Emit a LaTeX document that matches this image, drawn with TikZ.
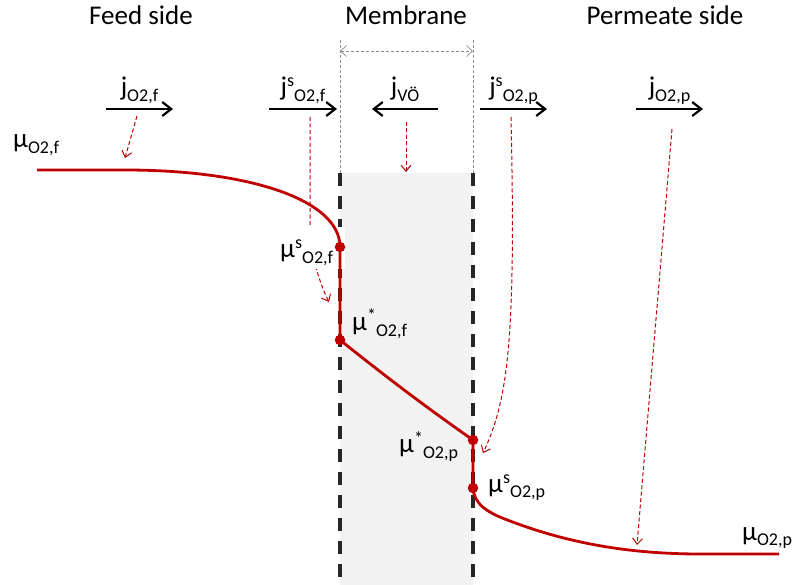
\documentclass[tikz,border=0pt]{standalone}
\usepackage{fontspec}
\setmainfont{Carlito}
\usetikzlibrary{arrows.meta,positioning}
\definecolor{curvered}{RGB}{192,0,0}
\definecolor{membgray}{RGB}{242,242,242}
\definecolor{walldark}{RGB}{38,38,38}
\newcommand{\lsub}[1]{\raisebox{-5.5pt}{\fontsize{18}{18}\selectfont #1}}
\newcommand{\lsup}[1]{\raisebox{9pt}{\fontsize{18}{18}\selectfont #1}}

\begin{document}
\begin{tikzpicture}[x=1pt, y=-1pt, >=Stealth,
    every node/.style={font=\fontsize{27}{31}\selectfont, inner sep=0pt},
    flux/.style={line width=2.2pt, -{Straight Barb[length=9pt,width=14pt]}},
    fluxlabel/.style={above=3pt, text depth=9pt},
    hint/.style={curvered, line width=1pt, dash pattern=on 4pt off 2.5pt, -{Straight Barb[length=6pt,width=10pt]}},
    wall/.style={walldark, line width=3.5pt, dash pattern=on 13pt off 10pt},
    guide/.style={black!45, line width=0.7pt, dash pattern=on 3pt off 2pt},
    potential/.style={curvered, line width=2.8pt},
    state/.style={circle, fill=curvered, minimum size=10.5pt}]
    \useasboundingbox (0,0) rectangle (793,585);

    % Membrane region and its walls
    \fill[membgray] (340,173) rectangle (473,585);
    \draw[wall] (340,173) -- (340,585);
    \draw[wall] (473,173) -- (473,585);
    \draw[guide] (340,40) -- (340,173);
    \draw[guide] (473,40) -- (473,173);
    \coordinate (thick-l) at (340,51);
    \coordinate (thick-r) at (473,51);
    \draw[guide, {Straight Barb[length=6pt,width=11pt]}-{Straight Barb[length=6pt,width=11pt]}] (thick-l) -- (thick-r);

    % Headings
    \node[anchor=base] (feed) at (141,25) {Feed side};
    \node[anchor=base] (memb) at (406,25) {Membrane};
    \node[anchor=base] (perm) at (665,25) {Permeate side};

    % Fluxes
    \coordinate (jf-a) at (106,109);  \coordinate (jf-b) at (173,109);
    \coordinate (jsf-a) at (269,109); \coordinate (jsf-b) at (337,109);
    \coordinate (jv-a) at (438,109);  \coordinate (jv-b) at (372,109);
    \coordinate (jsp-a) at (480,109); \coordinate (jsp-b) at (547,109);
    \coordinate (jp-a) at (636,109);  \coordinate (jp-b) at (703,109);
    \draw[flux] (jf-a) -- (jf-b) node[midway, fluxlabel] (jf) {j\lsub{O2,f}};
    \draw[flux] (jsf-a) -- (jsf-b) node[midway, fluxlabel] (jsf) {j\lsup{s}\lsub{O2,f}};
    \draw[flux] (jv-a) -- (jv-b) node[midway, fluxlabel] (jv) {j\lsub{VÖ}};
    \draw[flux] (jsp-a) -- (jsp-b) node[midway, fluxlabel] (jsp) {j\lsup{s}\lsub{O2,p}};
    \draw[flux] (jp-a) -- (jp-b) node[midway, fluxlabel] (jp) {j\lsub{O2,p}};

    % Hints from the fluxes to the potential
    \coordinate (hf-a) at (137,116);  \coordinate (hf-b) at (125,158);
    \coordinate (hsf-a) at (310,117); \coordinate (hsf-b) at (329,302);
    \coordinate (hv-a) at (406,122);  \coordinate (hv-b) at (406,172);
    \coordinate (hsp-a) at (511,117); \coordinate (hsp-b) at (483,453);
    \coordinate (hp-a) at (672,129);  \coordinate (hp-b) at (637,545);
    \draw[hint] (hf-a) -- (hf-b);
    \draw[hint] (hsf-a) -- (310,215) .. controls (310,250) and (317,278) .. (hsf-b);
    \draw[hint] (hv-a) -- (hv-b);
    \draw[hint] (hsp-a) .. controls (516,340) and (508,400) .. (hsp-b);
    \draw[hint] (hp-a) -- (hp-b);

    % Label over the feed-side wall
    \node[anchor=base west, fill=white, text width=63pt, align=left, text height=29pt, text depth=9pt,
        inner xsep=2pt, inner ysep=2pt] (musf) at (278,258) {μ\lsup{s}\lsub{O2,f}};

    % Oxygen potential
    \coordinate (pf) at (37,170);
    \coordinate (pp) at (779,554);
    \coordinate (sf) at (340,247);
    \coordinate (stf) at (340,340);
    \coordinate (stp) at (473,440);
    \coordinate (sp) at (473,488);
    \draw[potential] (pf) -- (125,170) .. controls (250,170) and (340,200) .. (sf) -- (stf)
        .. controls (390,380) and (430,410) .. (stp) -- (sp)
        .. controls (474,503) and (485,512) .. (510,521) .. controls (560,540) and (620,554) .. (700,554) -- (pp);
    \foreach \s in {sf,stf,stp,sp}
        \node[state] at (\s) {};

    % Potential labels
    \node[anchor=base west] (muf) at (13,148) {μ\lsub{O2,f}};
    \node[anchor=base west] (mutf) at (352,331) {μ\lsup{*}\lsub{O2,f}};
    \node[anchor=base west] (mutp) at (399,453) {μ\lsup{*}\lsub{O2,p}};
    \node[anchor=base west] (musp) at (488,492) {μ\lsup{s}\lsub{O2,p}};
    \node[anchor=base west] (mup) at (742,540) {μ\lsub{O2,p}};
\end{tikzpicture}
\end{document}
